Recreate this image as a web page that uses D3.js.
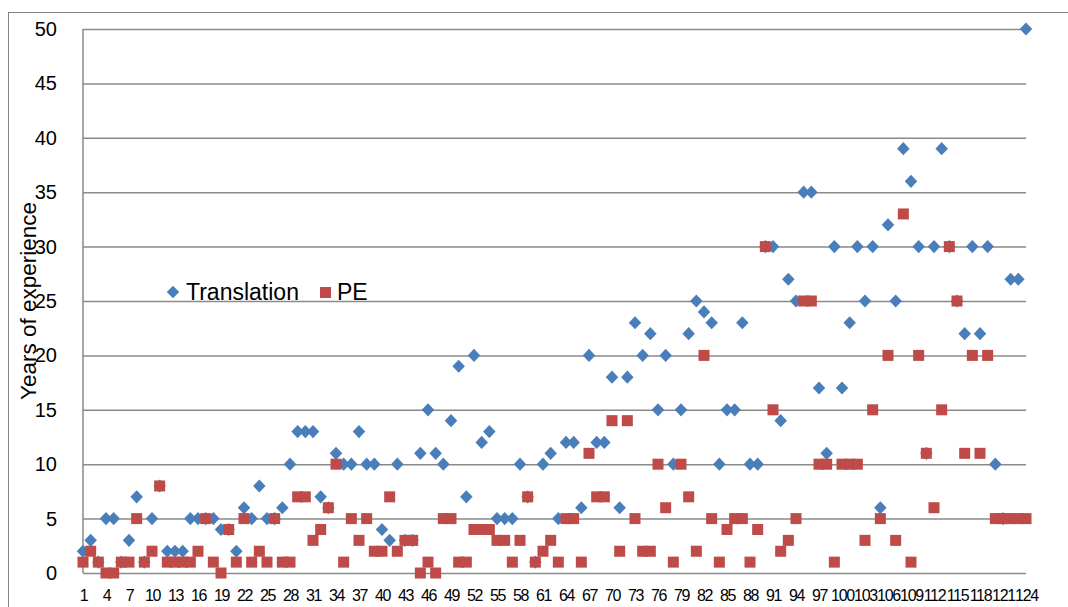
<!DOCTYPE html>
<html>
<head>
<meta charset="utf-8">
<script src="https://cdn.jsdelivr.net/npm/d3@7"></script>
<style>
  body { margin: 0; background: #fff; }
  svg { display: block; font-family: "Liberation Sans", Arial, sans-serif; }
</style>
</head>
<body>
<div id="svg-container"></div>
<script>
const svgWidth = 1068;
const svgHeight = 607;

// participants 1..124
const participants = d3.range(1, 125);

const translation = [
    2, 3, 1, 5, 5, 1, 3, 7, 1, 5,
    8, 2, 2, 2, 5, 5, 5, 5, 4, 4,
    2, 6, 5, 8, 5, 5, 6, 10, 13, 13,
    13, 7, 6, 11, 10, 10, 13, 10, 10, 4,
    3, 10, 3, 3, 11, 15, 11, 10, 14, 19,
    7, 20, 12, 13, 5, 5, 5, 10, 7, 1,
    10, 11, 5, 12, 12, 6, 20, 12, 12, 18,
    6, 18, 23, 20, 22, 15, 20, 10, 15, 22,
    25, 24, 23, 10, 15, 15, 23, 10, 10, 30,
    30, 14, 27, 25, 35, 35, 17, 11, 30, 17,
    23, 30, 25, 30, 6, 32, 25, 39, 36, 30,
    11, 30, 39, 30, 25, 22, 30, 22, 30, 10,
    5, 27, 27, 50
];

const pe = [
    1, 2, 1, 0, 0, 1, 1, 5, 1, 2,
    8, 1, 1, 1, 1, 2, 5, 1, 0, 4,
    1, 5, 1, 2, 1, 5, 1, 1, 7, 7,
    3, 4, 6, 10, 1, 5, 3, 5, 2, 2,
    7, 2, 3, 3, 0, 1, 0, 5, 5, 1,
    1, 4, 4, 4, 3, 3, 1, 3, 7, 1,
    2, 3, 1, 5, 5, 1, 11, 7, 7, 14,
    2, 14, 5, 2, 2, 10, 6, 1, 10, 7,
    2, 20, 5, 1, 4, 5, 5, 1, 4, 30,
    15, 2, 3, 5, 25, 25, 10, 10, 1, 10,
    10, 10, 3, 15, 5, 20, 3, 33, 1, 20,
    11, 6, 15, 30, 25, 11, 20, 11, 20, 5,
    5, 5, 5, 5
];

const yTicks = [0, 5, 10, 15, 20, 25, 30, 35, 40, 45, 50];
const xTickLabels = participants.filter(d => (d - 1) % 3 === 0);

const blue = "#4a7ebb";
const red = "#be4b48";
const gridColor = "#8a8a8a";

const svg = d3.select("#svg-container")
    .append("svg")
    .attr("width", svgWidth)
    .attr("height", svgHeight);

// chart area border (cut off at right and bottom)
svg.append("rect")
    .attr("x", 8.5)
    .attr("y", 12.5)
    .attr("width", 1080)
    .attr("height", 620)
    .attr("fill", "none")
    .attr("stroke", "#868686")
    .attr("stroke-width", 1);

const x = d3.scalePoint()
    .domain(participants)
    .range([83, 1026]);

const y = d3.scaleLinear()
    .domain([0, 50])
    .range([573, 29]);

// horizontal gridlines
const yAxis = d3.axisLeft(y)
    .tickValues(yTicks)
    .tickSize(-(1026 - 83))
    .tickPadding(26)
    .tickFormat(d3.format("d"));

const gy = svg.append("g")
    .attr("transform", "translate(83,0)")
    .call(yAxis);
gy.select(".domain").remove();
gy.selectAll(".tick line")
    .attr("stroke", gridColor)
    .attr("stroke-width", 1.5);
gy.selectAll(".tick text")
    .attr("fill", "#000")
    .style("font-size", "20px")
    .style("font-family", "'Liberation Sans', Arial, sans-serif");

// left axis line
svg.append("line")
    .attr("x1", 83).attr("x2", 83)
    .attr("y1", 29).attr("y2", 573)
    .attr("stroke", gridColor)
    .attr("stroke-width", 1.5);

// x axis labels
const xAxis = d3.axisBottom(x)
    .tickValues(xTickLabels)
    .tickSize(0)
    .tickPadding(17);

const gx = svg.append("g")
    .attr("transform", "translate(0,573)")
    .call(xAxis);
gx.select(".domain").remove();
gx.selectAll(".tick text")
    .attr("fill", "#000")
    .style("font-size", "16px")
    .style("letter-spacing", "-1.3px")
    .style("font-family", "'Liberation Sans', Arial, sans-serif");

// y axis title
svg.append("text")
    .attr("transform", "translate(36,301) rotate(-90)")
    .attr("text-anchor", "middle")
    .style("font-size", "22.5px")
    .attr("fill", "#000")
    .text("Years of experience");

const diamond = d3.symbol().type(d3.symbolDiamond2).size(100);

// Translation
svg.append("g")
    .selectAll("path")
    .data(participants)
    .join("path")
    .attr("d", diamond)
    .attr("transform", (d, i) => `translate(${x(d)},${y(translation[i])}) scale(1,1.05)`)
    .attr("fill", blue);

// PE
svg.append("g")
    .selectAll("rect")
    .data(participants)
    .join("rect")
    .attr("x", d => x(d) - 5.5)
    .attr("y", (d, i) => y(pe[i]) - 5.5)
    .attr("width", 11)
    .attr("height", 11)
    .attr("fill", red);

// legend
const legend = svg.append("g");
legend.append("path")
    .attr("d", diamond)
    .attr("transform", "translate(173,292)")
    .attr("fill", blue);
legend.append("text")
    .attr("x", 186)
    .attr("y", 299.5)
    .style("font-size", "23px")
    .attr("fill", "#000")
    .text("Translation");
legend.append("rect")
    .attr("x", 320)
    .attr("y", 287)
    .attr("width", 11)
    .attr("height", 11)
    .attr("fill", red);
legend.append("text")
    .attr("x", 337)
    .attr("y", 299.5)
    .style("font-size", "23px")
    .attr("fill", "#000")
    .text("PE");
</script>
</body>
</html>
